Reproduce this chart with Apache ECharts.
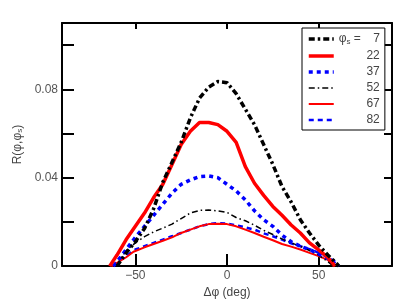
<!DOCTYPE html>
<html>
<head>
<meta charset="utf-8">
<script src="https://cdn.jsdelivr.net/npm/echarts@6/dist/echarts.min.js"></script>
<style>html,body{margin:0;padding:0;background:#fff;}#c{width:416px;height:304px;}</style>
</head>
<body>
<div id="c"></div>
<script>
var seriesNames = ['7', '22', '37', '52', '67', '82'];
var xTicks = [-50, 0, 50];
var yTicks = [0, 0.02, 0.04, 0.06, 0.08, 0.10];
var yLabels = [0, 0.04, 0.08];

var phi7 = [[-60,0],[-55,0.006],[-50,0.011],[-45,0.017],[-40,0.026],[-35,0.038],[-30,0.047],[-25,0.056],[-20,0.067],[-15,0.076],[-10,0.081],[-5,0.0835],[0,0.083],[5,0.078],[10,0.071],[15,0.064],[20,0.055],[25,0.046],[30,0.036],[35,0.029],[40,0.021],[45,0.015],[50,0.0095],[55,0.005],[60,0.001],[61,0]];
var phi22 = [[-64,0],[-60,0.005],[-55,0.012],[-50,0.018],[-45,0.024],[-40,0.031],[-35,0.037],[-30,0.046],[-25,0.055],[-20,0.061],[-15,0.065],[-10,0.065],[-5,0.064],[0,0.061],[5,0.056],[10,0.045],[15,0.0375],[20,0.032],[25,0.027],[30,0.023],[35,0.0186],[40,0.015],[45,0.0105],[50,0.0073],[55,0.004],[59,0]];
var phi37 = [[-62,0],[-60,0.002],[-55,0.0075],[-50,0.013],[-45,0.018],[-40,0.023],[-35,0.028],[-30,0.033],[-25,0.037],[-20,0.039],[-15,0.0405],[-10,0.0408],[-5,0.040],[0,0.037],[5,0.034],[10,0.030],[15,0.025],[20,0.021],[25,0.018],[30,0.014],[35,0.011],[40,0.009],[45,0.0075],[50,0.0055],[55,0.0035],[60,0.0005],[61,0]];
var phi52 = [[-60,0],[-58,0.0035],[-55,0.007],[-50,0.0105],[-45,0.0133],[-40,0.0155],[-35,0.0172],[-30,0.019],[-25,0.0215],[-20,0.024],[-15,0.0252],[-10,0.0254],[-5,0.025],[0,0.0243],[5,0.022],[10,0.0205],[15,0.0185],[20,0.0162],[25,0.0143],[30,0.0123],[35,0.0105],[40,0.009],[45,0.007],[50,0.005],[55,0.002],[58,0]];
var phi67 = [[-63,0],[-60,0.0015],[-55,0.004],[-51,0.0065],[-50,0.0072],[-45,0.0085],[-40,0.010],[-35,0.0115],[-30,0.013],[-25,0.015],[-20,0.0165],[-15,0.018],[-10,0.019],[-5,0.0192],[0,0.019],[5,0.018],[10,0.0165],[15,0.015],[20,0.0133],[25,0.0117],[30,0.010],[35,0.0088],[40,0.0075],[45,0.006],[50,0.0045],[55,0.0028],[58,0]];
var phi82 = [[-62,0],[-60,0.002],[-55,0.0045],[-50,0.0075],[-45,0.009],[-40,0.0105],[-35,0.012],[-30,0.0135],[-25,0.015],[-20,0.0165],[-15,0.018],[-10,0.019],[-5,0.0195],[0,0.0192],[5,0.0185],[10,0.0175],[15,0.0165],[20,0.0148],[25,0.0135],[30,0.012],[35,0.0103],[40,0.009],[45,0.0077],[50,0.006],[55,0.004],[60,0.0015],[61,0]];

var seriesData = [phi7, phi22, phi37, phi52, phi67, phi82];
var seriesStyles = [
  {color:'#000000', width:3.5, type:[6,3,2.5,3]},
  {color:'#ff0000', width:3.5, type:'solid'},
  {color:'#0000ff', width:3.5, type:[4,4]},
  {color:'#000000', width:1.5, type:[6,3,1.5,3]},
  {color:'#ff0000', width:2, type:'solid'},
  {color:'#0000ff', width:2.5, type:[5,4]}
];

var chart = echarts.init(document.getElementById('c'), null, {renderer:'canvas'});
var FONT = 'Liberation Sans, Arial, sans-serif';
var axisLine = {show:true, onZero:false, lineStyle:{color:'#000', width:2}};
var tickStyle = {color:'#000', width:2};

var series = seriesNames.map(function(n, i){
  return {
    name: n, type:'line', data: seriesData[i], showSymbol:false, symbol:'none',
    smooth:false, xAxisIndex:0, yAxisIndex:0,
    lineStyle:{color:seriesStyles[i].color, width:seriesStyles[i].width, type:seriesStyles[i].type, cap:'butt'},
    itemStyle:{color:seriesStyles[i].color},
    z: 10 - i
  };
});

chart.setOption({
  animation:false,
  backgroundColor:'#fff',
  textStyle:{fontFamily:FONT},
  grid:{left:62, right:24, top:23, bottom:36, containLabel:false},
  legend:{
    orient:'vertical', left:302, top:28, width:81,
    backgroundColor:'#fff', borderColor:'#000', borderWidth:1, borderRadius:0,
    padding:[4,5,4,5], itemGap:4, itemWidth:25, itemHeight:14,
    lineStyle:{width:'inherit'},
    itemStyle:{opacity:0, borderWidth:0},
    data: seriesNames,
    selectedMode:false,
    textStyle:{fontFamily:FONT, fontSize:12, color:'#444',
      rich:{
        p:{fontSize:12, color:'#444', lineHeight:14},
        sub:{fontSize:8, color:'#444', verticalAlign:'bottom', padding:[6,0,0,0], lineHeight:14},
        blank:{width:22, lineHeight:14},
        n:{width:19, align:'right', fontSize:12, color:'#444', lineHeight:14}
      }
    },
    formatter:function(name){
      if (name === '7') return '{p|φ}{sub|s}{p| =}{n|' + name + '}';
      return '{blank| }{n|' + name + '}';
    }
  },
  xAxis:[{
    type:'value', min:-90, max:90, position:'bottom',
    name:'Δφ (deg)', nameLocation:'middle', nameGap:17,
    nameTextStyle:{fontFamily:FONT, fontSize:12, color:'#444'},
    axisLine:axisLine,
    axisTick:{show:true, inside:true, length:12, lineStyle:tickStyle, customValues:xTicks},
    axisLabel:{show:true, customValues:xTicks, color:'#555', fontSize:12, margin:4, fontFamily:FONT,
      formatter:function(v){ return v < 0 ? '\u2212' + Math.abs(v) : String(v); }},
    splitLine:{show:false}
  },{
    type:'value', min:-90, max:90, position:'top',
    axisLine:axisLine,
    axisTick:{show:true, inside:true, length:6, lineStyle:tickStyle, customValues:xTicks},
    axisLabel:{show:false}, splitLine:{show:false}
  }],
  yAxis:[{
    type:'value', min:0, max:0.11, position:'left',
    name:'{a|R(φ,φ}{s|s}{a|)}', nameLocation:'middle', nameGap:30, nameRotate:90,
    nameTextStyle:{fontFamily:FONT, fontSize:12, color:'#444',
      rich:{a:{fontSize:12, color:'#444'}, s:{fontSize:8, color:'#444', verticalAlign:'bottom', padding:[5,0,0,0]}}},
    axisLine:axisLine,
    axisTick:{show:true, inside:true, length:12, lineStyle:tickStyle, customValues:yTicks},
    axisLabel:{show:true, customValues:yLabels, color:'#555', fontSize:12, margin:4, fontFamily:FONT,
      formatter:function(v){ return v === 0 ? '0' : v.toFixed(2); }},
    splitLine:{show:false}
  },{
    type:'value', min:0, max:0.11, position:'right',
    axisLine:axisLine,
    axisTick:{show:true, inside:true, length:8, lineStyle:tickStyle, customValues:yTicks},
    axisLabel:{show:false}, splitLine:{show:false}
  }],
  series: series
});
</script>
</body>
</html>
